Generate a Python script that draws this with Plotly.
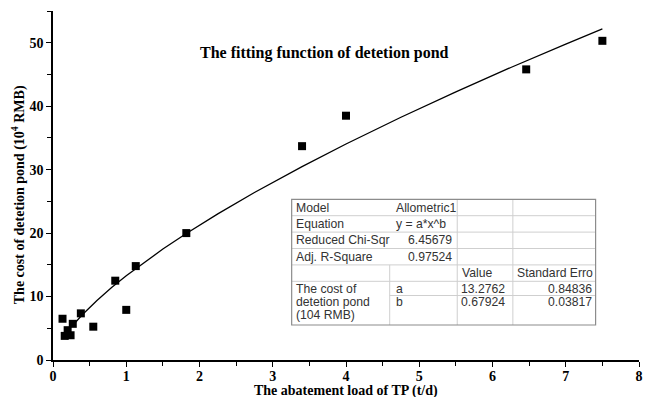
import plotly.graph_objects as go

# ---------------- data ----------------
tp_load = [0.13, 0.16, 0.20, 0.24, 0.27, 0.38, 0.55, 0.85, 1.00, 1.13, 1.82, 3.40, 4.00, 6.46, 7.50]
cost = [6.5, 3.8, 4.7, 3.9, 5.7, 7.35, 5.25, 12.5, 7.9, 14.8, 20.0, 33.7, 38.5, 45.8, 50.3]

fit_x = [0.28, 0.4, 0.6, 0.8, 1.0, 1.25, 1.5, 1.82, 2.25, 2.75, 3.4, 4.0, 4.75, 5.5, 6.25, 7.0, 7.5]
fit_y = [5.59, 7.13, 9.38, 11.41, 13.28, 15.45, 17.48, 19.94, 23.03, 26.39, 30.48, 34.04, 38.26, 42.26, 46.10, 49.78, 52.17]

x_ticks = [0, 1, 2, 3, 4, 5, 6, 7, 8]
y_ticks = [0, 10, 20, 30, 40, 50]

chart_title = "The fitting function of detetion pond"
x_title = "The abatement load of TP (t/d)"
y_title = "The cost of detetion pond (10<sup>4</sup> RMB)"

model_labels = ["Model", "Equation", "Reduced Chi-Sqr", "Adj. R-Square"]
model_values = ["Allometric1", "y = a*x^b", "6.45679", "0.97524"]
param_header = ["Value", "Standard Erro"]
param_names = ["a", "b"]
param_values = ["13.2762", "0.67924"]
param_errors = ["0.84836", "0.03817"]
dep_label = ["The cost of", "detetion pond", "(104 RMB)"]

# ---------------- layout geometry (pixels) ----------------
W, H = 645, 397
L, R, T, B = 53, 2, 11, 37
PW, PH = W - L - R, H - T - B


def px(x):
    return (x - L) / PW


def py(y):
    return (H - B - y) / PH


SERIF = "Liberation Serif"
SANS = "Liberation Sans"

fig = go.Figure()
fig.add_trace(go.Scatter(x=fit_x, y=fit_y, mode="lines",
                         line=dict(color="black", width=1.3), showlegend=False,
                         hoverinfo="skip"))
fig.add_trace(go.Scatter(x=tp_load, y=cost, mode="markers",
                         marker=dict(symbol="square", size=8, color="black"),
                         showlegend=False))

axis_common = dict(showline=True, linecolor="black", linewidth=1.6, mirror=False,
                   ticks="outside", ticklen=5, tickwidth=1.4, tickcolor="black",
                   showgrid=False, zeroline=False, ticklabeloverflow="allow",
                   tickfont=dict(family=SERIF, size=14, color="black", weight="bold"))

fig.update_xaxes(range=[0, 8], tickvals=x_ticks, ticktext=[str(v) for v in x_ticks],
                 ticklabelstandoff=-3,
                 minor=dict(dtick=0.5, ticks="outside", ticklen=4, tickwidth=1.2, tickcolor="black"),
                 **axis_common)
fig.update_yaxes(range=[0, 55], tickvals=y_ticks, ticktext=[str(v) for v in y_ticks],
                 minor=dict(dtick=5, ticks="outside", ticklen=4, tickwidth=1.2, tickcolor="black"),
                 **axis_common)

annotations = []
shapes = []

# chart title
annotations.append(dict(text=chart_title, x=px(326), y=py(53), xref="paper", yref="paper",
                        xanchor="center", yanchor="middle", showarrow=False,
                        font=dict(family=SERIF, size=16, color="black", weight="bold")))
# axis titles
annotations.append(dict(text=x_title, x=px(348), y=py(390.5), xref="paper", yref="paper",
                        xanchor="center", yanchor="middle", showarrow=False, borderpad=0,
                        font=dict(family=SERIF, size=14, color="black", weight="bold")))
annotations.append(dict(text=y_title, x=px(18), y=py(195), xref="paper", yref="paper",
                        xanchor="center", yanchor="middle", showarrow=False, textangle=-90,
                        borderpad=0,
                        font=dict(family=SERIF, size=14, color="black", weight="bold")))

# ---------------- results table ----------------
tl, c1, c2, c3, tr = 293.3, 392, 460, 516, 599.3
rows = [199.3, 215.7, 232.1, 248.5, 264.9, 281.3]
tb = 325
ab_line = 295.5
inner = "#cfcfcf"
outer = "#8c8c8c"


def hline(x0, x1, y, color):
    shapes.append(dict(type="line", xref="paper", yref="paper",
                       x0=px(x0), x1=px(x1), y0=py(y), y1=py(y),
                       line=dict(color=color, width=1)))


def vline(x, y0, y1, color):
    shapes.append(dict(type="line", xref="paper", yref="paper",
                       x0=px(x), x1=px(x), y0=py(y0), y1=py(y1),
                       line=dict(color=color, width=1)))


shapes.append(dict(type="rect", xref="paper", yref="paper",
                   x0=px(tl), x1=px(tr), y0=py(tb), y1=py(rows[0]),
                   fillcolor="white", line=dict(color="white", width=0), layer="above"))
for yy in rows[1:]:
    hline(tl, tr, yy, inner)
hline(c1, tr, ab_line, inner)
vline(c1, rows[4], tb, inner)
vline(c2, rows[0], tb, inner)
vline(c3, rows[0], tb, inner)
shapes.append(dict(type="rect", xref="paper", yref="paper",
                   x0=px(tl), x1=px(tr), y0=py(tb), y1=py(rows[0]),
                   line=dict(color=outer, width=1.2), layer="above"))

TFS = 12.2


def txt(s, x, y, anchor):
    annotations.append(dict(text=s, x=px(x), y=py(y), xref="paper", yref="paper",
                            xanchor=anchor, yanchor="middle", showarrow=False,
                            borderpad=0,
                            font=dict(family=SANS, size=TFS, color="#333333")))


row_centers = [(rows[i] + rows[i + 1]) / 2 for i in range(len(rows) - 1)]
for i, lab in enumerate(model_labels):
    txt(lab, 297, row_centers[i], "left")
txt(model_values[0], 397, row_centers[0], "left")
txt(model_values[1], 397, row_centers[1], "left")
txt(model_values[2], 456, row_centers[2], "right")
txt(model_values[3], 456, row_centers[3], "right")
txt(param_header[0], 464, row_centers[4], "left")
txt(param_header[1], 519, row_centers[4], "left")

data_lines = [289, 301.7, 314.5]
for i, lab in enumerate(dep_label):
    txt(lab, 297, data_lines[i], "left")
for i in range(2):
    txt(param_names[i], 397, data_lines[i], "left")
    txt(param_values[i], 509, data_lines[i], "right")
    txt(param_errors[i], 597, data_lines[i], "right")

fig.update_layout(width=W, height=H, margin=dict(l=L, r=R, t=T, b=B, pad=0),
                  paper_bgcolor="white", plot_bgcolor="white",
                  annotations=annotations, shapes=shapes, showlegend=False)

fig.write_html("out.html")
